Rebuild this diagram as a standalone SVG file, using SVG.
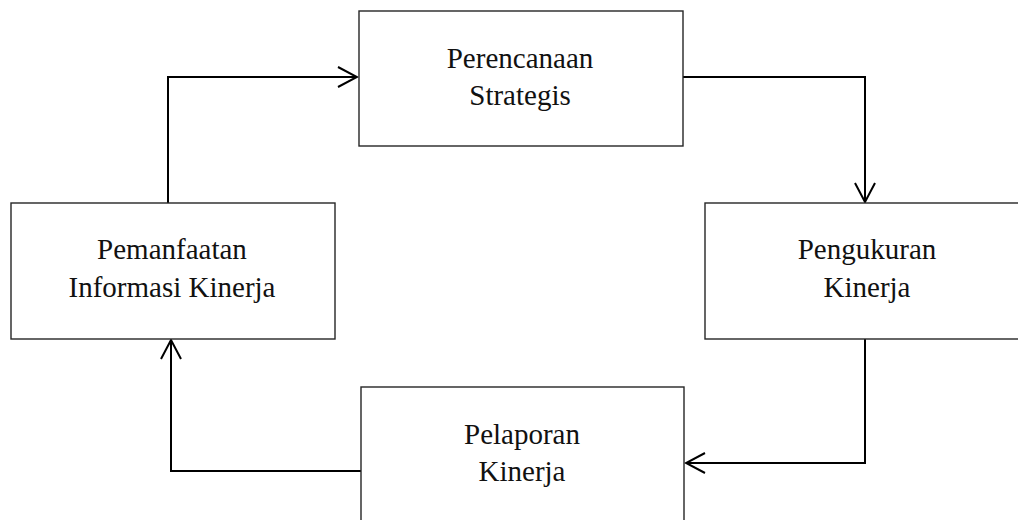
<svg xmlns="http://www.w3.org/2000/svg" width="1018" height="520" viewBox="0 0 1018 520">
<style>
.box{fill:#fff;stroke:#262626;stroke-width:1.4}
.lbl{font-family:"Liberation Serif","Times New Roman",serif;font-size:29px;fill:#111;text-anchor:middle}
.conn{fill:none;stroke:#000;stroke-width:2}
</style>
<defs>
<marker id="arr" viewBox="-20 -12 22 24" refX="0" refY="0" markerWidth="22" markerHeight="24" markerUnits="userSpaceOnUse" orient="auto">
<path d="M-19 -10 L0 0 L-19 10" fill="none" stroke="#000" stroke-width="2"/>
</marker>
</defs>
<rect width="1018" height="520" fill="#fff"/>
<g id="connectors">
<path class="conn" d="M168 203 V77 H357" marker-end="url(#arr)"/>
<path class="conn" d="M683 77 H865 V202" marker-end="url(#arr)"/>
<path class="conn" d="M865 339 V463 H686" marker-end="url(#arr)"/>
<path class="conn" d="M361 471 H171 V340" marker-end="url(#arr)"/>
</g>
<g id="perencanaan">
<rect class="box" x="359" y="11" width="324" height="135"/>
<text class="lbl" x="520" y="68">Perencanaan</text>
<text class="lbl" x="520" y="105">Strategis</text>
</g>
<g id="pengukuran">
<rect class="box" x="705" y="203" width="324" height="136"/>
<text class="lbl" x="867" y="259">Pengukuran</text>
<text class="lbl" x="867" y="297">Kinerja</text>
</g>
<g id="pelaporan">
<rect class="box" x="361" y="387" width="323" height="150"/>
<text class="lbl" x="522" y="444">Pelaporan</text>
<text class="lbl" x="522" y="481">Kinerja</text>
</g>
<g id="pemanfaatan">
<rect class="box" x="11" y="203" width="324" height="136"/>
<text class="lbl" x="172" y="259">Pemanfaatan</text>
<text class="lbl" x="172" y="297">Informasi Kinerja</text>
</g>
</svg>
